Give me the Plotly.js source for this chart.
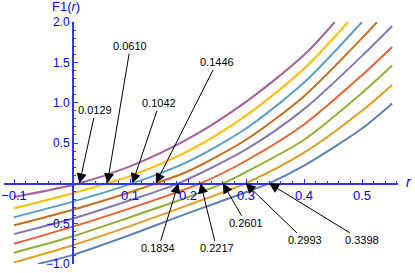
<!DOCTYPE html>
<html><head><meta charset="utf-8">
<script src="https://cdn.plot.ly/plotly-3.0.1.min.js"></script>
<style>html,body{margin:0;padding:0;background:#fff}#plot{width:415px;height:273px}</style>
</head><body><div id="plot"></div>
<script>
// roots marked with arrows
const roots = [0.0129, 0.0610, 0.1042, 0.1446, 0.1834, 0.2217, 0.2601, 0.2993, 0.3398];
const rootLabels = ["0.0129", "0.0610", "0.1042", "0.1446", "0.1834", "0.2217", "0.2601", "0.2993", "0.3398"];
// curves (r, F1(r)), top curve first
const rA = [-0.1, 0.0129, 0.1, 0.2, 0.3, 0.4, 0.453];
const fA = [-0.17, 0, 0.21, 0.55, 1.01, 1.59, 2.0];
const rB = [-0.1, 0, 0.061, 0.1, 0.2, 0.3, 0.4, 0.476];
const fB = [-0.31, -0.125, 0, 0.09, 0.40, 0.84, 1.42, 2.0];
const rC = [-0.1, 0, 0.1042, 0.2, 0.3, 0.4, 0.5];
const fC = [-0.42, -0.23, 0, 0.27, 0.68, 1.25, 2.0];
const rD = [-0.1, 0, 0.1, 0.1446, 0.2, 0.3, 0.4, 0.5, 0.526];
const fD = [-0.52, -0.33, -0.11, 0, 0.15, 0.54, 1.08, 1.80, 2.0];
const rE = [-0.1, 0, 0.1, 0.1834, 0.3, 0.4, 0.5, 0.552];
const fE = [-0.63, -0.44, -0.21, 0, 0.42, 0.92, 1.58, 1.95];
const rF = [-0.1, 0, 0.1, 0.2217, 0.3, 0.4, 0.5, 0.552];
const fF = [-0.75, -0.54, -0.31, 0, 0.28, 0.73, 1.34, 1.69];
const rG = [-0.1, 0, 0.1, 0.2, 0.2601, 0.3, 0.4, 0.5, 0.552];
const fG = [-0.86, -0.66, -0.42, -0.17, 0, 0.14, 0.54, 1.12, 1.46];
const rH = [-0.1, 0, 0.1, 0.2, 0.2993, 0.4, 0.5, 0.552];
const fH = [-0.98, -0.77, -0.53, -0.27, 0, 0.38, 0.90, 1.22];
const rI = [-0.059, 0, 0.1, 0.2, 0.3, 0.3398, 0.4, 0.5, 0.552];
const fI = [-1.0, -0.89, -0.64, -0.37, -0.11, 0, 0.22, 0.68, 0.99];

const xTickVals = [-0.1, 0.1, 0.2, 0.3, 0.4, 0.5];
const xTickText = ["\u22120.1", "0.1", "0.2", "0.3", "0.4", "0.5"];
const yTickVals = [-1.0, -0.5, 0.5, 1.0, 1.5, 2.0];
const yTickText = ["\u22121.0", "\u22120.5", "0.5", "1.0", "1.5", "2.0"];

// styling
const colors = ["#A5609D", "#FFBF00", "#5D9EC7", "#C56E1A", "#8778B3", "#EB6235", "#8FB032", "#E19C24", "#5E81B5"];
const labelOffsets = [[16,-73],[23,-137],[27,-80],[61,-121],[-20,65],[16,65],[23,40],[59,57],[93,57]];

const series = [[rA,fA],[rB,fB],[rC,fC],[rD,fD],[rE,fE],[rF,fF],[rG,fG],[rH,fH],[rI,fI]];
const traces = series.map((s,i)=>({
  x: s[0], y: s[1], type: 'scatter', mode: 'lines',
  line: {color: colors[i], width: 2, shape: 'spline', smoothing: 0.8},
  hoverinfo: 'skip'
}));

const axisBlue = '#3333ff';
const annotations = roots.map((r,i)=>({
  x: r, y: 0, xref: 'x', yref: 'y', text: rootLabels[i],
  showarrow: true, arrowhead: 2, arrowsize: 2, arrowwidth: 1, arrowcolor: '#000',
  ax: labelOffsets[i][0], ay: labelOffsets[i][1], standoff: 0,
  font: {size: 11, color: '#000'}
}));
annotations.push({xref:'paper', yref:'paper', x:(66-4)/394, y:1+(22-6.5)/242, text:'F1(<i>r</i>)', showarrow:false,
  font:{size:13, color:'#0000ff'}, xanchor:'center', yanchor:'middle'});
annotations.push({xref:'paper', yref:'paper', x:(409-4)/394, y:(264-182)/242, text:'<i>r</i>', showarrow:false,
  font:{size:14, color:'#0000ff'}, xanchor:'center', yanchor:'middle'});

const layout = {
  width: 415, height: 273,
  margin: {l: 4, r: 17, t: 22, b: 9, pad: 0},
  paper_bgcolor: '#ffffff', plot_bgcolor: 'rgba(0,0,0,0)',
  showlegend: false,
  font: {family: 'Liberation Sans, Arial, sans-serif'},
  xaxis: {
    range: [(4-72)/580, (398-72)/580], anchor: 'free', position: 1/3,
    showgrid: false, zeroline: false, showline: true, linecolor: axisBlue, linewidth: 1.5,
    ticks: 'inside', ticklen: 4, tickwidth: 1, tickcolor: axisBlue,
    tickmode: 'array', tickvals: xTickVals, ticktext: xTickText,
    tickfont: {size: 13, color: '#0000ff'},
    minor: {ticks: 'inside', ticklen: 2, tickwidth: 1, tickcolor: axisBlue, tickmode: 'linear', tick0: 0, dtick: 0.02}
  },
  yaxis: {
    range: [-1, 2], anchor: 'free', position: (72-4)/394,
    showgrid: false, zeroline: false, showline: true, linecolor: axisBlue, linewidth: 1.5,
    ticks: 'inside', ticklen: 4, tickwidth: 1, tickcolor: axisBlue,
    tickmode: 'array', tickvals: yTickVals, ticktext: yTickText,
    tickfont: {size: 12, color: '#0000ff'},
    minor: {ticks: 'inside', ticklen: 2, tickwidth: 1, tickcolor: axisBlue, tickmode: 'linear', tick0: 0, dtick: 0.1}
  },
  annotations: annotations
};

Plotly.newPlot('plot', traces, layout, {displayModeBar: false, staticPlot: true});
</script>
</body></html>
